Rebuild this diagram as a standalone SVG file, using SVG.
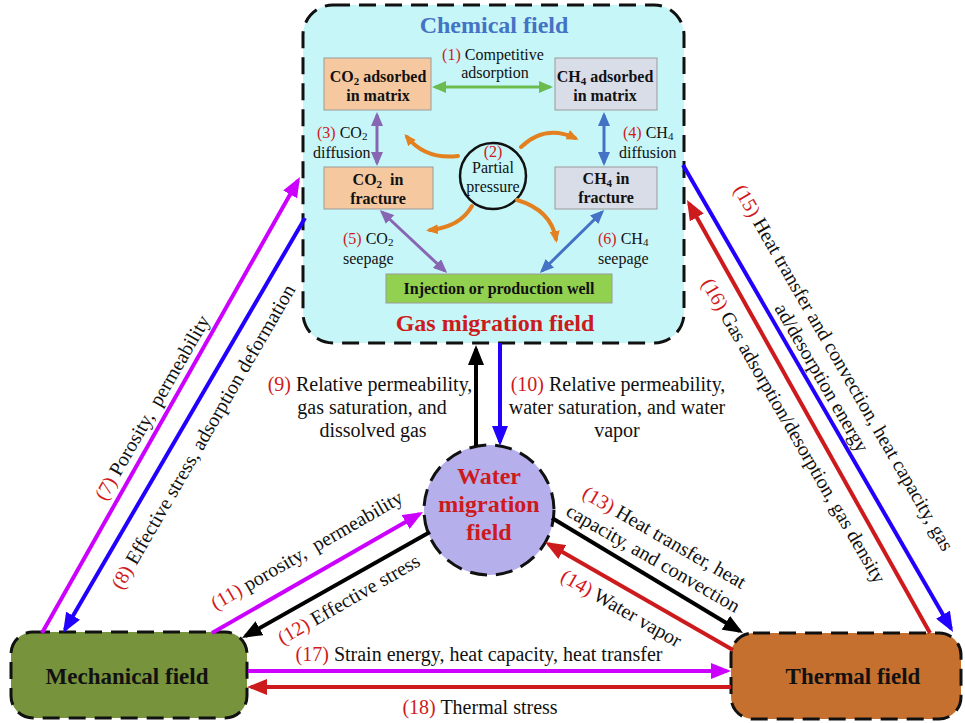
<svg xmlns="http://www.w3.org/2000/svg" width="965" height="723" viewBox="0 0 965 723">
<style>
text{font-family:"Liberation Serif","Times New Roman",serif;fill:#111}
.l20{font-size:20px}
.l16{font-size:16px}
.b{font-weight:bold}
.num{fill:#d0191b}
.dash{stroke:#111;stroke-width:3;stroke-dasharray:17 9}
.box{stroke:#9a9a9a;stroke-width:1}
.c4{fill:none;stroke-width:4}
.c3{fill:none;stroke-width:3}
.org{fill:none;stroke:#e3801f;stroke-width:4;stroke-linecap:round}
</style>
<defs>
<marker id="mMag" markerUnits="userSpaceOnUse" viewBox="0 0 20 16" refX="16" refY="8" markerWidth="20" markerHeight="16" orient="auto"><path d="M0,0L20,8L0,16Z" fill="#cc00ff"/></marker>
<marker id="mBlue" markerUnits="userSpaceOnUse" viewBox="0 0 20 16" refX="16" refY="8" markerWidth="20" markerHeight="16" orient="auto"><path d="M0,0L20,8L0,16Z" fill="#2200ff"/></marker>
<marker id="mRed" markerUnits="userSpaceOnUse" viewBox="0 0 20 16" refX="16" refY="8" markerWidth="20" markerHeight="16" orient="auto"><path d="M0,0L20,8L0,16Z" fill="#cc1a1d"/></marker>
<marker id="mBlk" markerUnits="userSpaceOnUse" viewBox="0 0 20 16" refX="16" refY="8" markerWidth="20" markerHeight="16" orient="auto"><path d="M0,0L20,8L0,16Z" fill="#000"/></marker>
<marker id="mGrn" markerUnits="userSpaceOnUse" viewBox="0 0 14 12" refX="11" refY="6" markerWidth="14" markerHeight="12" orient="auto-start-reverse"><path d="M0,0L14,6L0,12Z" fill="#6cbb4f"/></marker>
<marker id="mPur" markerUnits="userSpaceOnUse" viewBox="0 0 14 12" refX="11" refY="6" markerWidth="14" markerHeight="12" orient="auto-start-reverse"><path d="M0,0L14,6L0,12Z" fill="#8767b4"/></marker>
<marker id="mCb" markerUnits="userSpaceOnUse" viewBox="0 0 14 12" refX="11" refY="6" markerWidth="14" markerHeight="12" orient="auto-start-reverse"><path d="M0,0L14,6L0,12Z" fill="#4472c4"/></marker>
<marker id="mOrg" markerUnits="userSpaceOnUse" viewBox="0 0 12 10" refX="8" refY="5" markerWidth="12" markerHeight="10" orient="auto"><path d="M0,0L12,5L0,10Z" fill="#e3801f"/></marker>
</defs>
<rect width="965" height="723" fill="#fff"/>

<g id="gas-migration-field">
<rect x="303" y="5" width="381" height="338" rx="30" fill="#c6f6f8" class="dash"/>
<text x="494" y="33" text-anchor="middle" class="b" style="font-size:24px;fill:#4472c4">Chemical field</text>
<text x="495" y="331" text-anchor="middle" class="b" style="font-size:24px;fill:#cc1a1d">Gas migration field</text>
</g>

<g id="co2-matrix">
<rect x="324" y="58" width="107" height="52" fill="#f5c8a0" class="box"/>
<text x="378" y="82" text-anchor="middle" class="l16 b">CO<tspan font-size="11" dy="3">2</tspan><tspan dy="-3"> adsorbed</tspan></text>
<text x="378" y="101" text-anchor="middle" class="l16 b">in matrix</text>
</g>
<g id="ch4-matrix">
<rect x="555" y="58" width="102" height="52" fill="#d9dde8" class="box"/>
<text x="605" y="82" text-anchor="middle" class="l16 b">CH<tspan font-size="11" dy="3">4</tspan><tspan dy="-3"> adsorbed</tspan></text>
<text x="605" y="101" text-anchor="middle" class="l16 b">in matrix</text>
</g>
<g id="co2-fracture">
<rect x="324" y="167" width="109" height="42" fill="#f5c8a0" class="box"/>
<text x="378" y="185" text-anchor="middle" class="l16 b" xml:space="preserve">CO<tspan font-size="11" dy="3">2</tspan><tspan dy="-3">  in</tspan></text>
<text x="378" y="204" text-anchor="middle" class="l16 b">fracture</text>
</g>
<g id="ch4-fracture">
<rect x="555" y="167" width="102" height="42" fill="#d9dde8" class="box"/>
<text x="606" y="184" text-anchor="middle" class="l16 b">CH<tspan font-size="11" dy="3">4</tspan><tspan dy="-3"> in</tspan></text>
<text x="606" y="203" text-anchor="middle" class="l16 b">fracture</text>
</g>
<g id="partial-pressure">
<circle cx="493" cy="176" r="33" fill="none" stroke="#111" stroke-width="2.5"/>
<text x="493" y="157" text-anchor="middle" class="l16 num">(2)</text>
<text x="493" y="173" text-anchor="middle" class="l16">Partial</text>
<text x="493" y="192" text-anchor="middle" class="l16">pressure</text>
</g>
<g id="well">
<rect x="386" y="274" width="226" height="29" fill="#92d050" class="box"/>
<text x="499" y="294" text-anchor="middle" class="l16 b">Injection or production well</text>
</g>

<g id="water-migration-field">
<circle cx="489" cy="510" r="65" fill="#b5b0ec" class="dash"/>
<text x="489" y="484" text-anchor="middle" class="b" style="font-size:24px;fill:#cc1a1d">Water</text>
<text x="489" y="512" text-anchor="middle" class="b" style="font-size:24px;fill:#cc1a1d">migration</text>
<text x="489" y="540" text-anchor="middle" class="b" style="font-size:24px;fill:#cc1a1d">field</text>
</g>
<g id="mechanical-field">
<rect x="11" y="632" width="236" height="86" rx="22" fill="#77933c" class="dash"/>
<text x="127" y="684" text-anchor="middle" class="b" style="font-size:23px">Mechanical field</text>
</g>
<g id="thermal-field">
<rect x="731" y="633" width="230" height="86" rx="22" fill="#c5702e" class="dash"/>
<text x="853" y="684" text-anchor="middle" class="b" style="font-size:23px">Thermal field</text>
</g>

<g id="chemical-connectors">
<line x1="435" y1="87" x2="550" y2="87" class="c3" stroke="#6cbb4f" marker-start="url(#mGrn)" marker-end="url(#mGrn)"/>
<line x1="377" y1="115" x2="377" y2="163" class="c3" stroke="#8767b4" marker-start="url(#mPur)" marker-end="url(#mPur)"/>
<line x1="604" y1="115" x2="604" y2="163" class="c3" stroke="#4472c4" marker-start="url(#mCb)" marker-end="url(#mCb)"/>
<line x1="382" y1="212" x2="445" y2="271" class="c3" stroke="#8767b4" marker-start="url(#mPur)" marker-end="url(#mPur)"/>
<line x1="602" y1="212" x2="542" y2="271" class="c3" stroke="#4472c4" marker-start="url(#mCb)" marker-end="url(#mCb)"/>
<path d="M458,156 Q426,160 407,137" class="org" marker-end="url(#mOrg)"/>
<path d="M521,147 Q545,124 575,138" class="org" marker-end="url(#mOrg)"/>
<path d="M472,206 Q460,227 430,230" class="org" marker-end="url(#mOrg)"/>
<path d="M517,200 Q551,210 556,239" class="org" marker-end="url(#mOrg)"/>
<text x="493" y="60" text-anchor="middle" class="l16"><tspan class="num">(1)</tspan> Competitive</text>
<text x="495" y="78" text-anchor="middle" class="l16">adsorption</text>
<text x="317" y="138" class="l16"><tspan class="num">(3)</tspan> CO<tspan font-size="11" dy="2">2</tspan></text>
<text x="313" y="158" class="l16">diffusion</text>
<text x="623" y="138" class="l16"><tspan class="num">(4)</tspan> CH<tspan font-size="11" dy="2">4</tspan></text>
<text x="619" y="158" class="l16">diffusion</text>
<text x="343" y="244" class="l16"><tspan class="num">(5)</tspan> CO<tspan font-size="11" dy="2">2</tspan></text>
<text x="343" y="264" class="l16">seepage</text>
<text x="598" y="244" class="l16"><tspan class="num">(6)</tspan> CH<tspan font-size="11" dy="2">4</tspan></text>
<text x="598" y="264" class="l16">seepage</text>
</g>

<g id="connectors">
<line x1="42" y1="633" x2="298" y2="180.5" class="c4" stroke="#cc00ff" marker-end="url(#mMag)"/>
<line x1="305" y1="218" x2="65" y2="629.5" class="c4" stroke="#2200ff" marker-end="url(#mBlue)"/>
<line x1="683" y1="165" x2="951" y2="628.5" class="c4" stroke="#2200ff" marker-end="url(#mBlue)"/>
<line x1="930" y1="633" x2="689" y2="203.5" class="c4" stroke="#cc1a1d" marker-end="url(#mRed)"/>
<line x1="476" y1="446" x2="476" y2="349" class="c4" stroke="#000" marker-end="url(#mBlk)"/>
<line x1="500" y1="343" x2="500" y2="442" class="c4" stroke="#2200ff" marker-end="url(#mBlue)"/>
<line x1="212" y1="633" x2="419.5" y2="514" class="c4" stroke="#cc00ff" marker-end="url(#mMag)"/>
<line x1="430" y1="532" x2="245.5" y2="636" class="c4" stroke="#000" marker-end="url(#mBlk)"/>
<line x1="552" y1="518" x2="739.6" y2="631" class="c4" stroke="#000" marker-end="url(#mBlk)"/>
<line x1="733" y1="650" x2="548.5" y2="544" class="c4" stroke="#cc1a1d" marker-end="url(#mRed)"/>
<line x1="248" y1="671" x2="727" y2="671" class="c4" stroke="#cc00ff" marker-end="url(#mMag)"/>
<line x1="731" y1="687" x2="251" y2="687" class="c4" stroke="#cc1a1d" marker-end="url(#mRed)"/>

<text transform="translate(158,411) rotate(-60)" text-anchor="middle" class="l20" xml:space="preserve"><tspan class="num">(7)</tspan> Porosity,  permeability</text>
<text transform="translate(209,440) rotate(-60)" text-anchor="middle" class="l20"><tspan class="num">(8)</tspan> Effective stress, adsorption deformation</text>
<text transform="translate(838,371) rotate(60)" text-anchor="middle" class="l20"><tspan class="num">(15)</tspan> Heat transfer and convection, heat capacity, gas</text>
<text transform="translate(816,381) rotate(60)" text-anchor="middle" class="l20">ad/desorption energy</text>
<text transform="translate(788,434) rotate(60)" text-anchor="middle" class="l20"><tspan class="num">(16)</tspan> Gas adsorption/desorption, gas density</text>
<text x="370" y="391" text-anchor="middle" class="l20"><tspan class="num">(9)</tspan> Relative permeability,</text>
<text x="372" y="414" text-anchor="middle" class="l20">gas saturation, and</text>
<text x="373" y="437" text-anchor="middle" class="l20">dissolved gas</text>
<text x="618" y="391" text-anchor="middle" class="l20"><tspan class="num">(10)</tspan> Relative permeability,</text>
<text x="617" y="414" text-anchor="middle" class="l20">water saturation, and water</text>
<text x="617" y="437" text-anchor="middle" class="l20">vapor</text>
<text transform="translate(310,556) rotate(-30)" text-anchor="middle" class="l20" xml:space="preserve"><tspan class="num">(11)</tspan> porosity,  permeability</text>
<text transform="translate(352,605) rotate(-30)" text-anchor="middle" class="l20"><tspan class="num">(12)</tspan> Effective stress</text>
<text transform="translate(661,543) rotate(30)" text-anchor="middle" class="l20"><tspan class="num">(13)</tspan> Heat transfer, heat</text>
<text transform="translate(650,564) rotate(30)" text-anchor="middle" class="l20">capacity, and convection</text>
<text transform="translate(618,614) rotate(30)" text-anchor="middle" class="l20"><tspan class="num">(14)</tspan> Water vapor</text>
<text x="479" y="661" text-anchor="middle" class="l20"><tspan class="num">(17)</tspan> Strain energy, heat capacity, heat transfer</text>
<text x="480" y="714" text-anchor="middle" class="l20"><tspan class="num">(18)</tspan> Thermal stress</text>
</g>
</svg>
